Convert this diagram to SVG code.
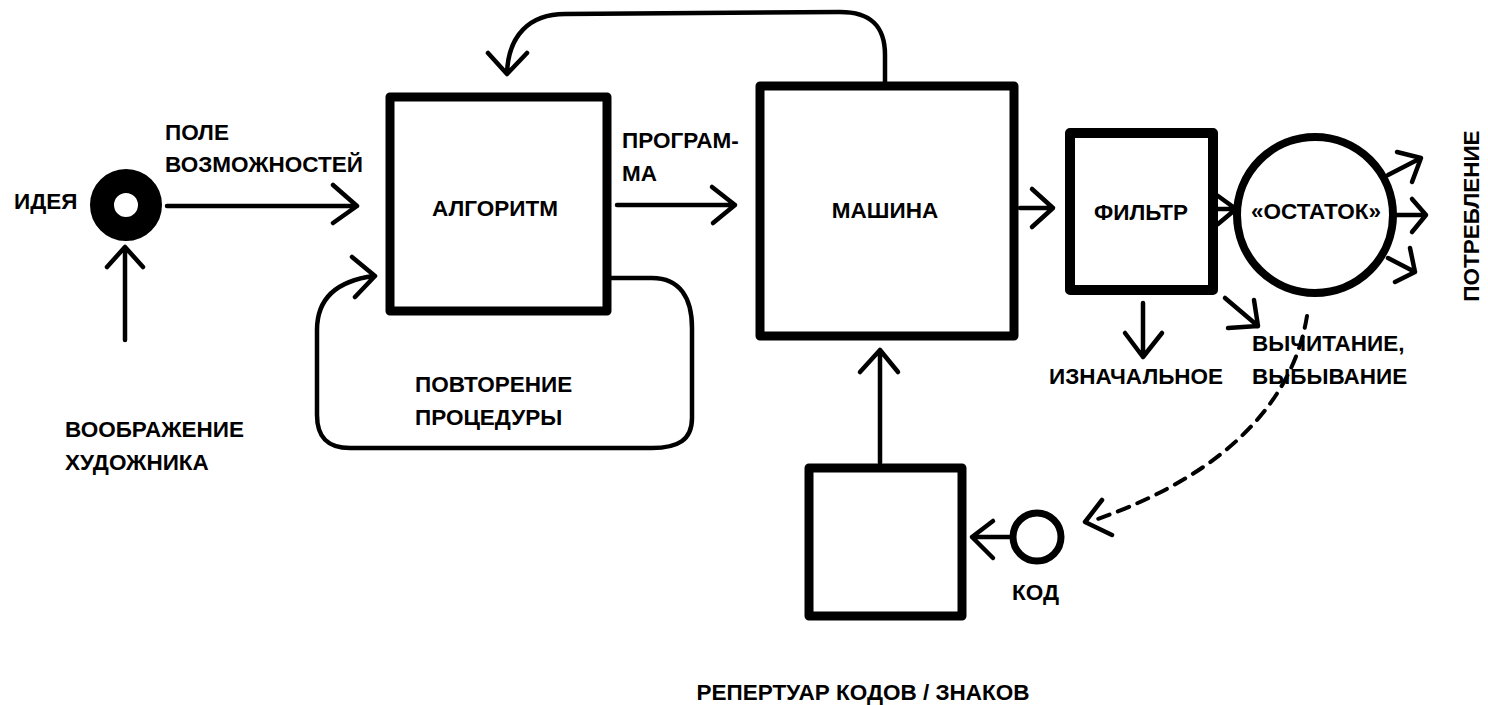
<svg xmlns="http://www.w3.org/2000/svg" width="1488" height="705" viewBox="0 0 1488 705">
<style>
  .t { font-family: "Liberation Sans", Arial, sans-serif; font-weight: bold; font-size: 22.5px; fill: #000; }
  .box { fill: #fff; stroke: #000; stroke-width: 9; stroke-linejoin: round; }
  .ln { fill: none; stroke: #000; stroke-width: 4.5; stroke-linecap: round; stroke-linejoin: round; }
  .dash { fill: none; stroke: #000; stroke-width: 4; stroke-dasharray: 12 9; stroke-linecap: round; }
</style>
<rect width="1488" height="705" fill="#fff"/>
<g id="connectors">
  <!-- imagination -> idea -->
  <path class="ln" d="M125,340 L125,248 M107,267 L125,247 L143,267"/>
  <!-- idea -> algorithm -->
  <path class="ln" d="M167,206 L357,206 M333,185 L357,206 L333,223"/>
  <!-- repeat loop -->
  <path class="ln" d="M607,278 L652,278 C680,278 692,298 692,328 L692,418 C692,440 678,448 652,448 L350,448 C328,448 317,438 317,415 L317,330 C317,300 335,281 374,276 M352,257 L375,276 L355,297"/>
  <!-- machine -> algorithm top curve -->
  <path class="ln" d="M885,82 L885,55 C885,25 870,12 840,12 L565,14 C530,14 508,35 507,74 M488,53 L507,74 L527,53"/>
  <!-- algorithm -> machine -->
  <path class="ln" d="M617,205 L735,205 M712,187 L735,205 L713,223"/>
  <!-- machine -> filter -->
  <path class="ln" d="M1020,208 L1053,208 M1032,189 L1053,208 L1032,227"/>
  <!-- filter -> remainder -->
  <path class="ln" d="M1214,209 L1236,209 M1218,196 L1236,209 L1218,224"/>
  <!-- remainder -> consumption -->
  <path class="ln" d="M1388,175 L1421,158 M1397,152 L1421,158 L1412,182"/>
  <path class="ln" d="M1393,215 L1426,215 M1412,199 L1426,215 L1412,232"/>
  <path class="ln" d="M1388,258 L1415,272 M1410,248 L1415,272 L1395,282"/>
  <!-- filter -> original -->
  <path class="ln" d="M1143,303 L1143,357 M1125,333 L1143,357 L1162,333"/>
  <!-- filter -> subtraction -->
  <path class="ln" d="M1225,298 L1258,326 M1254,300 L1258,326 L1228,328"/>
  <!-- subtraction -> code (dashed) -->
  <path class="dash" d="M1307,316 C1295,390 1240,470 1092,521"/>
  <path class="ln" d="M1102,500 L1085,522 L1112,535"/>
  <!-- code -> repertoire -->
  <path class="ln" d="M1013,537 L972,537 M993,521 L972,537 L993,558"/>
  <!-- repertoire -> machine -->
  <path class="ln" d="M880,463 L880,350 M860,372 L880,350 L898,372"/>
</g>
<g id="idea">
  <circle cx="126" cy="205" r="24" fill="none" stroke="#000" stroke-width="24"/>
  <text class="t" x="14" y="209">ИДЕЯ</text>
</g>
<g id="field">
  <text class="t" x="165" y="140">ПОЛЕ</text>
  <text class="t" x="165" y="172">ВОЗМОЖНОСТЕЙ</text>
</g>
<g id="imagination">
  <text class="t" x="65" y="437">ВООБРАЖЕНИЕ</text>
  <text class="t" x="65" y="470">ХУДОЖНИКА</text>
</g>
<g id="algorithm">
  <rect class="box" x="390" y="97" width="217" height="214"/>
  <text class="t" x="495" y="216" text-anchor="middle">АЛГОРИТМ</text>
</g>
<g id="repeat">
  <text class="t" x="415" y="392">ПОВТОРЕНИЕ</text>
  <text class="t" x="415" y="425">ПРОЦЕДУРЫ</text>
</g>
<g id="program">
  <text class="t" x="622" y="148">ПРОГРАМ-</text>
  <text class="t" x="622" y="181">МА</text>
</g>
<g id="machine">
  <rect class="box" x="760" y="86" width="254" height="250"/>
  <text class="t" x="885" y="218" text-anchor="middle">МАШИНА</text>
</g>
<g id="filter">
  <rect class="box" x="1070" y="133" width="143" height="157" style="stroke-width:10"/>
  <text class="t" x="1141" y="220" text-anchor="middle">ФИЛЬТР</text>
</g>
<g id="remainder">
  <circle cx="1315" cy="215" r="78" fill="#fff" stroke="#000" stroke-width="8"/>
  <text class="t" x="1316" y="219" text-anchor="middle">«ОСТАТОК»</text>
</g>
<g id="consumption">
  <text class="t" x="0" y="0" text-anchor="middle" transform="translate(1479,216) rotate(-90)">ПОТРЕБЛЕНИЕ</text>
</g>
<g id="original">
  <text class="t" x="1049" y="384">ИЗНАЧАЛЬНОЕ</text>
</g>
<g id="subtraction">
  <text class="t" x="1252" y="351">ВЫЧИТАНИЕ,</text>
  <text class="t" x="1252" y="384">ВЫБЫВАНИЕ</text>
</g>
<g id="repertoire">
  <rect class="box" x="809" y="468" width="153" height="148"/>
  <text class="t" x="863" y="700" text-anchor="middle">РЕПЕРТУАР КОДОВ / ЗНАКОВ</text>
</g>
<g id="code">
  <circle cx="1037" cy="537" r="24" fill="#fff" stroke="#000" stroke-width="7"/>
  <text class="t" x="1012" y="600">КОД</text>
</g>
</svg>
